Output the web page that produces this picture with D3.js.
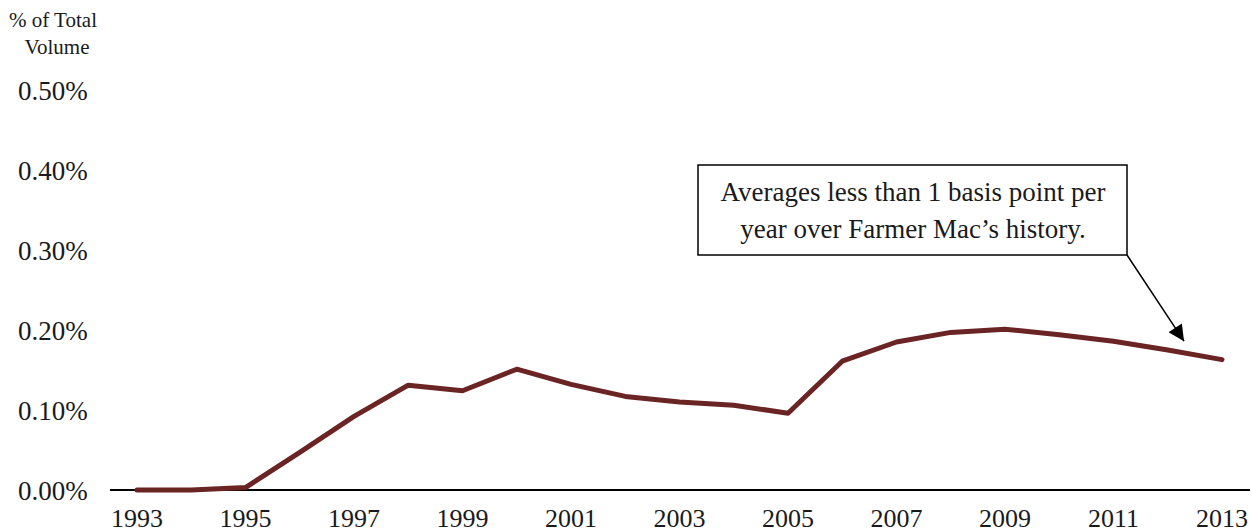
<!DOCTYPE html>
<html>
<head>
<meta charset="utf-8">
<script src="https://cdn.jsdelivr.net/npm/d3@7"></script>
<style>
  body { margin: 0; background: #fff; }
  text { font-family: "Liberation Serif", "Times New Roman", serif; fill: #1a1a1a; }
</style>
</head>
<body>
<div id="chart"></div>
<script>
// chart data
var years = d3.range(1993, 2014);
var lossPct = [0.000, 0.000, 0.003, 0.047, 0.092, 0.131, 0.124, 0.151, 0.132, 0.117,
               0.110, 0.106, 0.096, 0.161, 0.185, 0.197, 0.201, 0.194, 0.186, 0.175, 0.163];
var yTicks = [0, 0.1, 0.2, 0.3, 0.4, 0.5];
var xTicks = [1993, 1995, 1997, 1999, 2001, 2003, 2005, 2007, 2009, 2011, 2013];
var noteLines = ["Averages less than 1 basis point per", "year over Farmer Mac\u2019s history."];

var W = 1252, H = 532;
var svg = d3.select("#chart").append("svg").attr("width", W).attr("height", H);

var x = d3.scaleLinear().domain([1993, 2013]).range([137, 1222]);
var y = d3.scaleLinear().domain([0, 0.5]).range([490, 90]);

// y axis title
svg.append("text").attr("x", 53).attr("y", 27).attr("text-anchor", "middle")
  .style("font-size", "21px").text("% of Total");
svg.append("text").attr("x", 57).attr("y", 54).attr("text-anchor", "middle")
  .style("font-size", "21px").text("Volume");

// y tick labels
svg.selectAll(".ylab").data(yTicks).enter().append("text")
  .attr("class", "ylab")
  .attr("x", 18)
  .attr("y", function(d) { return y(d) + 10; })
  .style("font-size", "27px")
  .text(function(d) { return d3.format(".2f")(d) + "%"; });

// x axis line
svg.append("line").attr("x1", 110).attr("x2", 1250)
  .attr("y1", y(0)).attr("y2", y(0))
  .attr("stroke", "#000").attr("stroke-width", 2);

// x tick labels
svg.selectAll(".xlab").data(xTicks).enter().append("text")
  .attr("class", "xlab")
  .attr("x", function(d) { return x(d); })
  .attr("y", 527)
  .attr("text-anchor", "middle")
  .style("font-size", "26px")
  .text(function(d) { return d; });

// the line
var line = d3.line()
  .x(function(d, i) { return x(years[i]); })
  .y(function(d) { return y(d); });

svg.append("path").datum(lossPct)
  .attr("d", line)
  .attr("fill", "none")
  .attr("stroke", "#6b2424")
  .attr("stroke-width", 5)
  .attr("stroke-linejoin", "round")
  .attr("stroke-linecap", "round");

// annotation box
svg.append("defs").append("marker")
  .attr("id", "arr").attr("viewBox", "0 0 10 10")
  .attr("refX", 10).attr("refY", 5)
  .attr("markerWidth", 18).attr("markerHeight", 16)
  .attr("markerUnits", "userSpaceOnUse")
  .attr("orient", "auto")
  .append("path").attr("d", "M0,0 L10,5 L0,10 z").attr("fill", "#000");

svg.append("rect").attr("x", 698).attr("y", 165).attr("width", 429).attr("height", 90)
  .attr("fill", "#fff").attr("stroke", "#000").attr("stroke-width", 1.5);

svg.selectAll(".note").data(noteLines).enter().append("text")
  .attr("class", "note")
  .attr("x", 913)
  .attr("y", function(d, i) { return 201 + i * 37; })
  .attr("text-anchor", "middle")
  .style("font-size", "27px")
  .text(function(d) { return d; });

svg.append("line")
  .attr("x1", 1127).attr("y1", 255)
  .attr("x2", x(2012.3)).attr("y2", y(0.186))
  .attr("stroke", "#000").attr("stroke-width", 1.5)
  .attr("marker-end", "url(#arr)");
</script>
</body>
</html>
